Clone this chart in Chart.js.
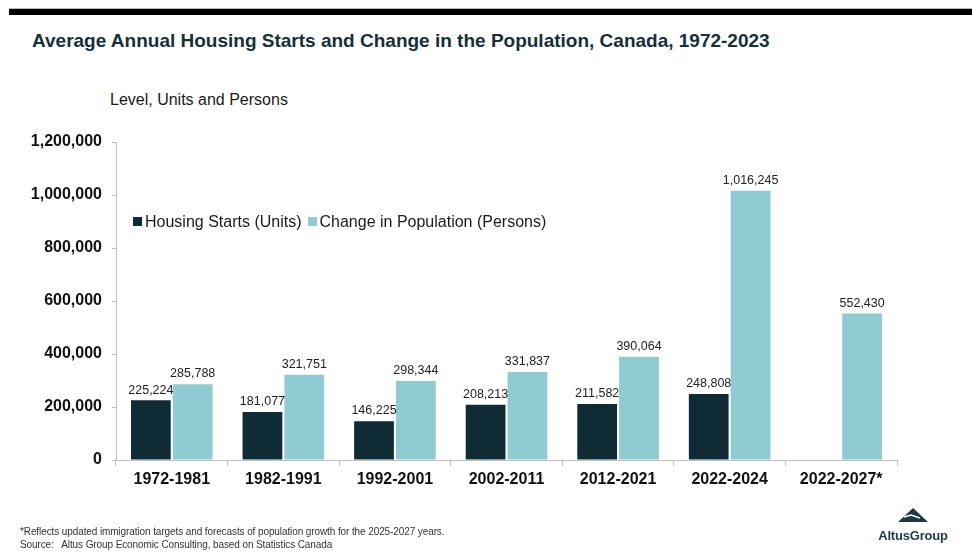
<!DOCTYPE html>
<html>
<head>
<meta charset="utf-8">
<script src="https://cdn.jsdelivr.net/npm/chart.js@4/dist/chart.umd.min.js"></script>
<style>
    html, body { margin: 0; padding: 0; background: #fff; }
    body { width: 972px; height: 558px; position: relative; overflow: hidden; font-family: "Liberation Sans", Arial, sans-serif; }
    #topbar { position: absolute; left: 9px; right: 0; top: 8px; height: 6px; background: #000; border-top: 1px solid #bbb; }
    #title { position: absolute; left: 32px; top: 30px; font-size: 19px; font-weight: bold; color: #13303b; white-space: nowrap; }
    #subtitle { position: absolute; left: 110px; top: 91px; font-size: 16px; color: #1a1a1a; white-space: nowrap; }
    #chart-wrap { position: absolute; left: 0; top: 0; width: 972px; height: 558px; }
    #legend { position: absolute; left: 133px; top: 213px; font-size: 16px; color: #1a1a1a; white-space: nowrap; }
    #legend span.box { display: inline-block; width: 9px; height: 9px; margin-right: 3px; vertical-align: 1px; }
    #legend span.item { margin-right: 6px; }
    #footer { position: absolute; left: 20px; top: 525px; font-size: 10px; color: #333; line-height: 13px; white-space: nowrap; letter-spacing: -0.1px; }
    #logo { position: absolute; left: 874px; top: 508px; width: 78px; text-align: center; }
    #logo .name { font-size: 13px; font-weight: bold; color: #1c3a44; letter-spacing: -0.2px; margin-top: 1px; }
</style>
</head>
<body>
<div id="topbar"></div>
<div id="title">Average Annual Housing Starts and Change in the Population, Canada, 1972-2023</div>
<div id="subtitle">Level, Units and Persons</div>
<div id="chart-wrap"><canvas id="mainChart" width="972" height="558"></canvas></div>
<div id="legend"></div>
<div id="footer">*Reflects updated immigration targets and forecasts of population growth for the 2025-2027 years.<br>Source:&nbsp;&nbsp; Altus Group Economic Consulting, based on Statistics Canada</div>
<div id="logo">
    <svg width="30" height="15" viewBox="0 0 30 15"><polygon points="15,0 30,14 0,14" fill="#1c3a44"/><polyline points="6,9 13,7 22,10" fill="none" stroke="#fff" stroke-width="1.6"/></svg>
    <div class="name">AltusGroup</div>
</div>
<script>
const periods = ['1972-1981', '1982-1991', '1992-2001', '2002-2011', '2012-2021', '2022-2024', '2022-2027*'];
const housingStarts = [225224, 181077, 146225, 208213, 211582, 248808, null];
const populationChange = [285788, 321751, 298344, 331837, 390064, 1016245, 552430];
const yTicks = [0, 200000, 400000, 600000, 800000, 1000000, 1200000];

const seriesNames = ['Housing Starts (Units)', 'Change in Population (Persons)'];
const seriesColors = ['#0e2b36', '#8ecbd3'];

// legend sits inside the plot, so it's plain html
document.getElementById('legend').innerHTML = seriesNames.map((n, i) =>
    `<span class="item"><span class="box" style="background:${seriesColors[i]}"></span>${n}</span>`
).join('');

const valueLabels = {
    id: 'valueLabels',
    afterDatasetsDraw(chart) {
        const ctx = chart.ctx;
        ctx.save();
        ctx.font = '12.5px "Liberation Sans", Arial, sans-serif';
        ctx.fillStyle = '#222';
        ctx.textAlign = 'center';
        ctx.textBaseline = 'bottom';
        chart.data.datasets.forEach((ds, di) => {
            chart.getDatasetMeta(di).data.forEach((bar, i) => {
                const v = ds.data[i];
                if (v === null || v === undefined) return;
                ctx.fillText(v.toLocaleString('en-US'), bar.x, bar.y - 4);
            });
        });
        ctx.restore();
    }
};

const ctx = document.getElementById('mainChart').getContext('2d');
new Chart(ctx, {
    type: 'bar',
    data: {
        labels: periods,
        datasets: [
            { label: seriesNames[0], data: housingStarts, backgroundColor: seriesColors[0] },
            { label: seriesNames[1], data: populationChange, backgroundColor: seriesColors[1] }
        ]
    },
    options: {
        responsive: false,
        animation: false,
        categoryPercentage: 0.75,
        barPercentage: 0.95,
        layout: { padding: { left: 0, right: 75, top: 142, bottom: 0 } },
        scales: {
            x: {
                afterFit: s => { s.height = 98; },
                grid: { drawOnChartArea: false, drawTicks: true, tickLength: 6, color: '#bfbfbf' },
                border: { color: '#bfbfbf' },
                ticks: { color: '#111', padding: 4, font: { family: '"Liberation Sans", Arial', size: 16, weight: 'bold' } }
            },
            y: {
                min: 0,
                max: 1200000,
                afterFit: s => { s.width = 116; },
                afterBuildTicks: s => { s.ticks = yTicks.map(v => ({ value: v })); },
                grid: { drawOnChartArea: false, drawTicks: true, tickLength: 4, color: '#bfbfbf' },
                border: { color: '#bfbfbf' },
                ticks: {
                    color: '#111',
                    padding: 10,
                    font: { family: '"Liberation Sans", Arial', size: 16, weight: 'bold' },
                    callback: v => v.toLocaleString('en-US')
                }
            }
        },
        plugins: {
            legend: { display: false },
            tooltip: { enabled: false }
        }
    },
    plugins: [valueLabels]
});
</script>
</body>
</html>
